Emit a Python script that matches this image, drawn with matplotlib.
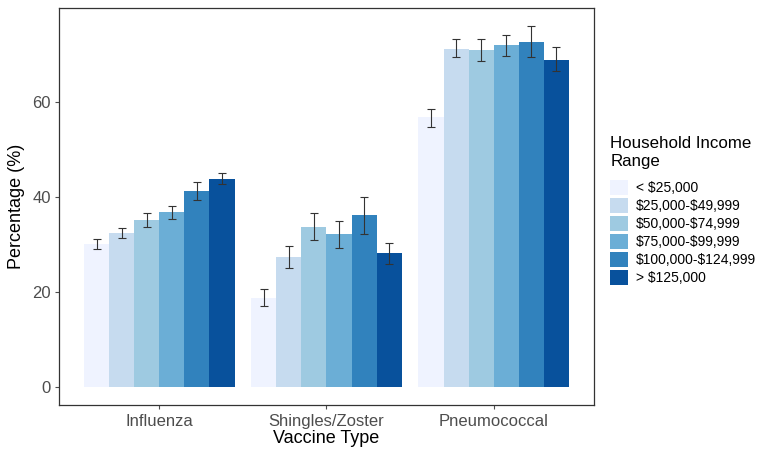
import numpy as np
import matplotlib
matplotlib.use("Agg")
import matplotlib.pyplot as plt
from matplotlib.patches import Patch

plt.rcParams['font.family'] = ['Liberation Sans', 'DejaVu Sans']
plt.rcParams['text.parse_math'] = False

vaccines = ["Influenza", "Shingles/Zoster", "Pneumococcal"]
income_ranges = ["< $25,000", "$25,000-$49,999", "$50,000-$74,999",
                 "$75,000-$99,999", "$100,000-$124,999", "> $125,000"]
colors = ["#EFF3FF", "#C6DBEF", "#9ECAE1", "#6BAED6", "#3182BD", "#08519C"]

# percentage per vaccine, one list per income range
influenza = [30.1, 32.5, 35.3, 36.9, 41.3, 43.9]
shingles = [18.9, 27.5, 33.8, 32.2, 36.2, 28.2]
pneumo = [56.8, 71.1, 70.9, 72.0, 72.6, 68.9]

# error bar lower / upper bounds
influenza_lo = [29.2, 31.5, 33.8, 35.5, 39.4, 42.7]
influenza_hi = [31.2, 33.6, 36.6, 38.2, 43.1, 45.0]
shingles_lo = [17.1, 25.2, 30.9, 29.4, 32.3, 25.9]
shingles_hi = [20.6, 29.7, 36.7, 34.9, 40.1, 30.4]
pneumo_lo = [54.7, 69.5, 68.6, 69.6, 69.5, 66.5]
pneumo_hi = [58.5, 73.2, 73.2, 74.2, 76.0, 71.5]

values = np.array([influenza, shingles, pneumo])
lows = np.array([influenza_lo, shingles_lo, pneumo_lo])
highs = np.array([influenza_hi, shingles_hi, pneumo_hi])

fig = plt.figure(figsize=(7.69, 4.49), dpi=100)
ax = fig.add_axes([0.0767, 0.097, 0.6957, 0.8852])

n = len(income_ranges)
bw = 0.9 / n
x = np.arange(len(vaccines))
for i in range(n):
    xs = x - 0.45 + bw * (i + 0.5)
    ax.bar(xs, values[:, i], width=bw, color=colors[i], edgecolor="none", zorder=2)
    yerr = [values[:, i] - lows[:, i], highs[:, i] - values[:, i]]
    ax.errorbar(xs, values[:, i], yerr=yerr, fmt="none", ecolor="#333333",
                elinewidth=0.8, capsize=2.6, capthick=0.8, zorder=3)

ax.set_xlim(-0.6, 2.6)
ax.set_ylim(-3.8, 79.8)
ax.set_xticks(x)
ax.set_xticklabels(vaccines)
ax.set_yticks([0, 20, 40, 60])
ax.tick_params(axis="both", colors="#4D4D4D", labelsize=12, length=3, width=0.8, pad=3)
for s in ax.spines.values():
    s.set_color("#333333")
    s.set_linewidth(0.9)

ax.set_xlabel("Vaccine Type", fontsize=13, labelpad=1)
ax.set_ylabel("Percentage (%)", fontsize=13, labelpad=5)

handles = [Patch(facecolor=c, edgecolor="none") for c in colors]
leg = ax.legend(handles, income_ranges, title="Household Income\nRange",
                loc="center left", bbox_to_anchor=(1.02, 0.49), frameon=False,
                fontsize=10, title_fontsize=12.2, handlelength=1.25, handleheight=1.3,
                handletextpad=0.6, labelspacing=0.2, borderaxespad=0)
leg._legend_box.align = "left"
leg._legend_box.sep = 8

fig.savefig("out.png", dpi=100)
